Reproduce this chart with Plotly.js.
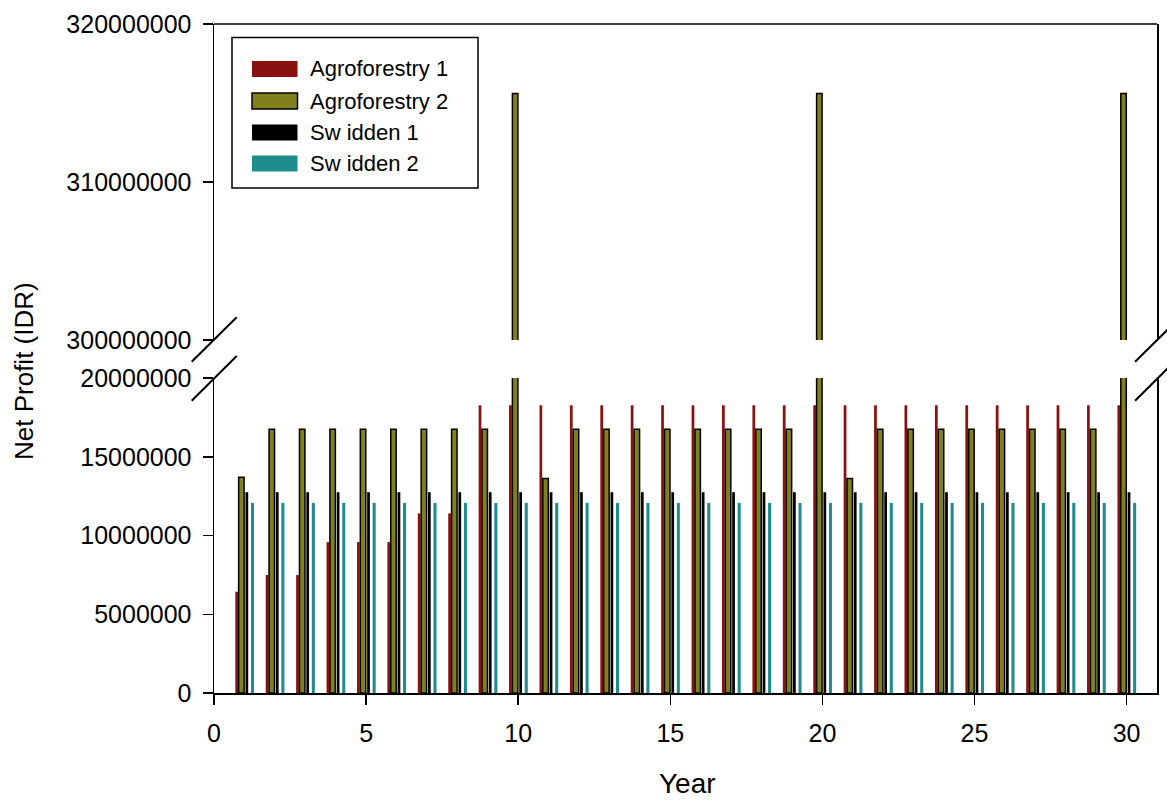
<!DOCTYPE html>
<html>
<head>
<meta charset="utf-8">
<script src="https://cdn.plot.ly/plotly-3.0.1.min.js"></script>
<style>
  html, body { margin: 0; padding: 0; background: #ffffff; }
  #chart { width: 1167px; height: 802px; }
</style>
</head>
<body>
<div id="chart"></div>
<script>
// ---- data ----
const years = [1,2,3,4,5,6,7,8,9,10,11,12,13,14,15,16,17,18,19,20,21,22,23,24,25,26,27,28,29,30];
const seriesNames = ["Agroforestry 1", "Agroforestry 2", "Sw idden 1", "Sw idden 2"];
const agroforestry1 = [6430000, 7490000, 7490000, 9580000, 9580000, 9580000, 11400000, 11400000, 18270000, 18270000,
                       18270000, 18270000, 18270000, 18270000, 18270000, 18270000, 18270000, 18270000, 18270000, 18270000,
                       18270000, 18270000, 18270000, 18270000, 18270000, 18270000, 18270000, 18270000, 18270000, 18270000];
const agroforestry2 = [13700000, 16750000, 16750000, 16750000, 16750000, 16750000, 16750000, 16750000, 16750000, 315600000,
                       13620000, 16750000, 16750000, 16750000, 16750000, 16750000, 16750000, 16750000, 16750000, 315600000,
                       13620000, 16750000, 16750000, 16750000, 16750000, 16750000, 16750000, 16750000, 16750000, 315600000];
const swidden1 = [12750000, 12750000, 12750000, 12750000, 12750000, 12750000, 12750000, 12750000, 12750000, 12750000,
                  12750000, 12750000, 12750000, 12750000, 12750000, 12750000, 12750000, 12750000, 12750000, 12750000,
                  12750000, 12750000, 12750000, 12750000, 12750000, 12750000, 12750000, 12750000, 12750000, 12750000];
const swidden2 = [12070000, 12070000, 12070000, 12070000, 12070000, 12070000, 12070000, 12070000, 12070000, 12070000,
                  12070000, 12070000, 12070000, 12070000, 12070000, 12070000, 12070000, 12070000, 12070000, 12070000,
                  12070000, 12070000, 12070000, 12070000, 12070000, 12070000, 12070000, 12070000, 12070000, 12070000];
const xTicks = [0, 5, 10, 15, 20, 25, 30];
const lowerTicks = [0, 5000000, 10000000, 15000000, 20000000];
const upperTicks = [300000000, 310000000, 320000000];

// ---- styling ----
const colors = ["#8b1010", "#80801c", "#000000", "#1e8c8c"];
const FONT = "Liberation Sans, Arial, Helvetica, sans-serif";
const W = 1167, H = 802;
const M = {l: 214, r: 10, t: 24, b: 109};
const PW = W - M.l - M.r, PH = H - M.t - M.b;
const px = x => (x - M.l) / PW;
const py = y => (H - M.b - y) / PH;

const lowerDomain = [0, py(378)];
const upperDomain = [py(340), 1];

function barTrace(name, y, color, offset, width, yaxis, withLine) {
  return {
    type: "bar", name: name, x: years, y: y, yaxis: yaxis, xaxis: "x",
    offset: offset, width: width,
    marker: {color: color, line: {color: "#000000", width: withLine ? 1.5 : 0}},
    showlegend: false, hoverinfo: "x+y+name"
  };
}

const traces = [
  barTrace(seriesNames[0], agroforestry1, colors[0], -0.30, 0.09, "y", false),
  barTrace(seriesNames[1], agroforestry2, colors[1], -0.19, 0.18, "y", true),
  barTrace(seriesNames[2], swidden1, colors[2], 0.035, 0.09, "y", false),
  barTrace(seriesNames[3], swidden2, colors[3], 0.215, 0.10, "y", false),
  barTrace(seriesNames[1], agroforestry2, colors[1], -0.19, 0.18, "y2", true)
];

const axisCommon = {
  showline: true, linecolor: "#000000", linewidth: 1.5,
  ticks: "outside", ticklen: 10, tickwidth: 1.5, tickcolor: "#000000",
  showgrid: false, zeroline: false, fixedrange: true,
  tickfont: {family: FONT, size: 25, color: "#000000"}
};

const shapes = [];
// top frame line
shapes.push({type: "line", xref: "paper", yref: "paper", x0: 0, x1: 1, y0: 1, y1: 1,
             line: {color: "#000000", width: 1.5}});
// axis break marks (left and right)
[0, 943.4].forEach(dx => {
  shapes.push({type: "line", xref: "paper", yref: "paper",
               x0: px(191.7 + dx), y0: py(361.7), x1: px(236.7 + dx), y1: py(317.3),
               line: {color: "#000000", width: 2}});
  shapes.push({type: "line", xref: "paper", yref: "paper",
               x0: px(191.7 + dx), y0: py(400.7), x1: px(236.7 + dx), y1: py(356),
               line: {color: "#000000", width: 2}});
});
// legend box
shapes.push({type: "rect", xref: "paper", yref: "paper",
             x0: px(232), x1: px(478), y0: py(37.5), y1: py(188),
             line: {color: "#000000", width: 1.5}, fillcolor: "rgba(255,255,255,1)", layer: "above"});
const legendRows = [69, 101, 132.5, 163.5];
const annotations = [];
legendRows.forEach((yc, i) => {
  shapes.push({type: "rect", xref: "paper", yref: "paper",
               x0: px(252), x1: px(297.5), y0: py(yc - 8), y1: py(yc + 8),
               fillcolor: colors[i], layer: "above",
               line: {color: "#000000", width: i === 1 ? 1.5 : 0}});
  annotations.push({xref: "paper", yref: "paper", x: px(308), y: py(yc),
                    xanchor: "left", yanchor: "middle", showarrow: false,
                    text: seriesNames[i], font: {family: FONT, size: 22, color: "#000000"}});
});
// axis titles
annotations.push({xref: "paper", yref: "paper", x: px(24), y: py(371), textangle: -90,
                  xanchor: "center", yanchor: "middle", showarrow: false,
                  text: "Net Profit (IDR)", font: {family: FONT, size: 26, color: "#000000"}});
annotations.push({xref: "paper", yref: "paper", x: px(687), y: py(801),
                  xanchor: "center", yanchor: "bottom", showarrow: false,
                  text: "Year", font: {family: FONT, size: 28, color: "#000000"}});

const layout = {
  width: W, height: H,
  margin: M,
  paper_bgcolor: "#ffffff", plot_bgcolor: "#ffffff",
  font: {family: FONT, color: "#000000"},
  barmode: "overlay",
  showlegend: false,
  xaxis: Object.assign({}, axisCommon, {
    range: [0, 31], tickmode: "array", tickvals: xTicks, ticktext: xTicks.map(String),
    anchor: "y", ticklabelstandoff: 7
  }),
  yaxis: Object.assign({}, axisCommon, {
    domain: lowerDomain, range: [0, 20000000], tickmode: "array",
    tickvals: lowerTicks, ticktext: lowerTicks.map(v => String(v)),
    mirror: true, anchor: "x", ticklabelstandoff: 6
  }),
  yaxis2: Object.assign({}, axisCommon, {
    domain: upperDomain, range: [300000000, 320000000], tickmode: "array",
    tickvals: upperTicks, ticktext: upperTicks.map(v => String(v)),
    mirror: true, anchor: "x", ticklabelstandoff: 6
  }),
  shapes: shapes,
  annotations: annotations
};

Plotly.newPlot("chart", traces, layout, {displayModeBar: false, staticPlot: true});
</script>
</body>
</html>
